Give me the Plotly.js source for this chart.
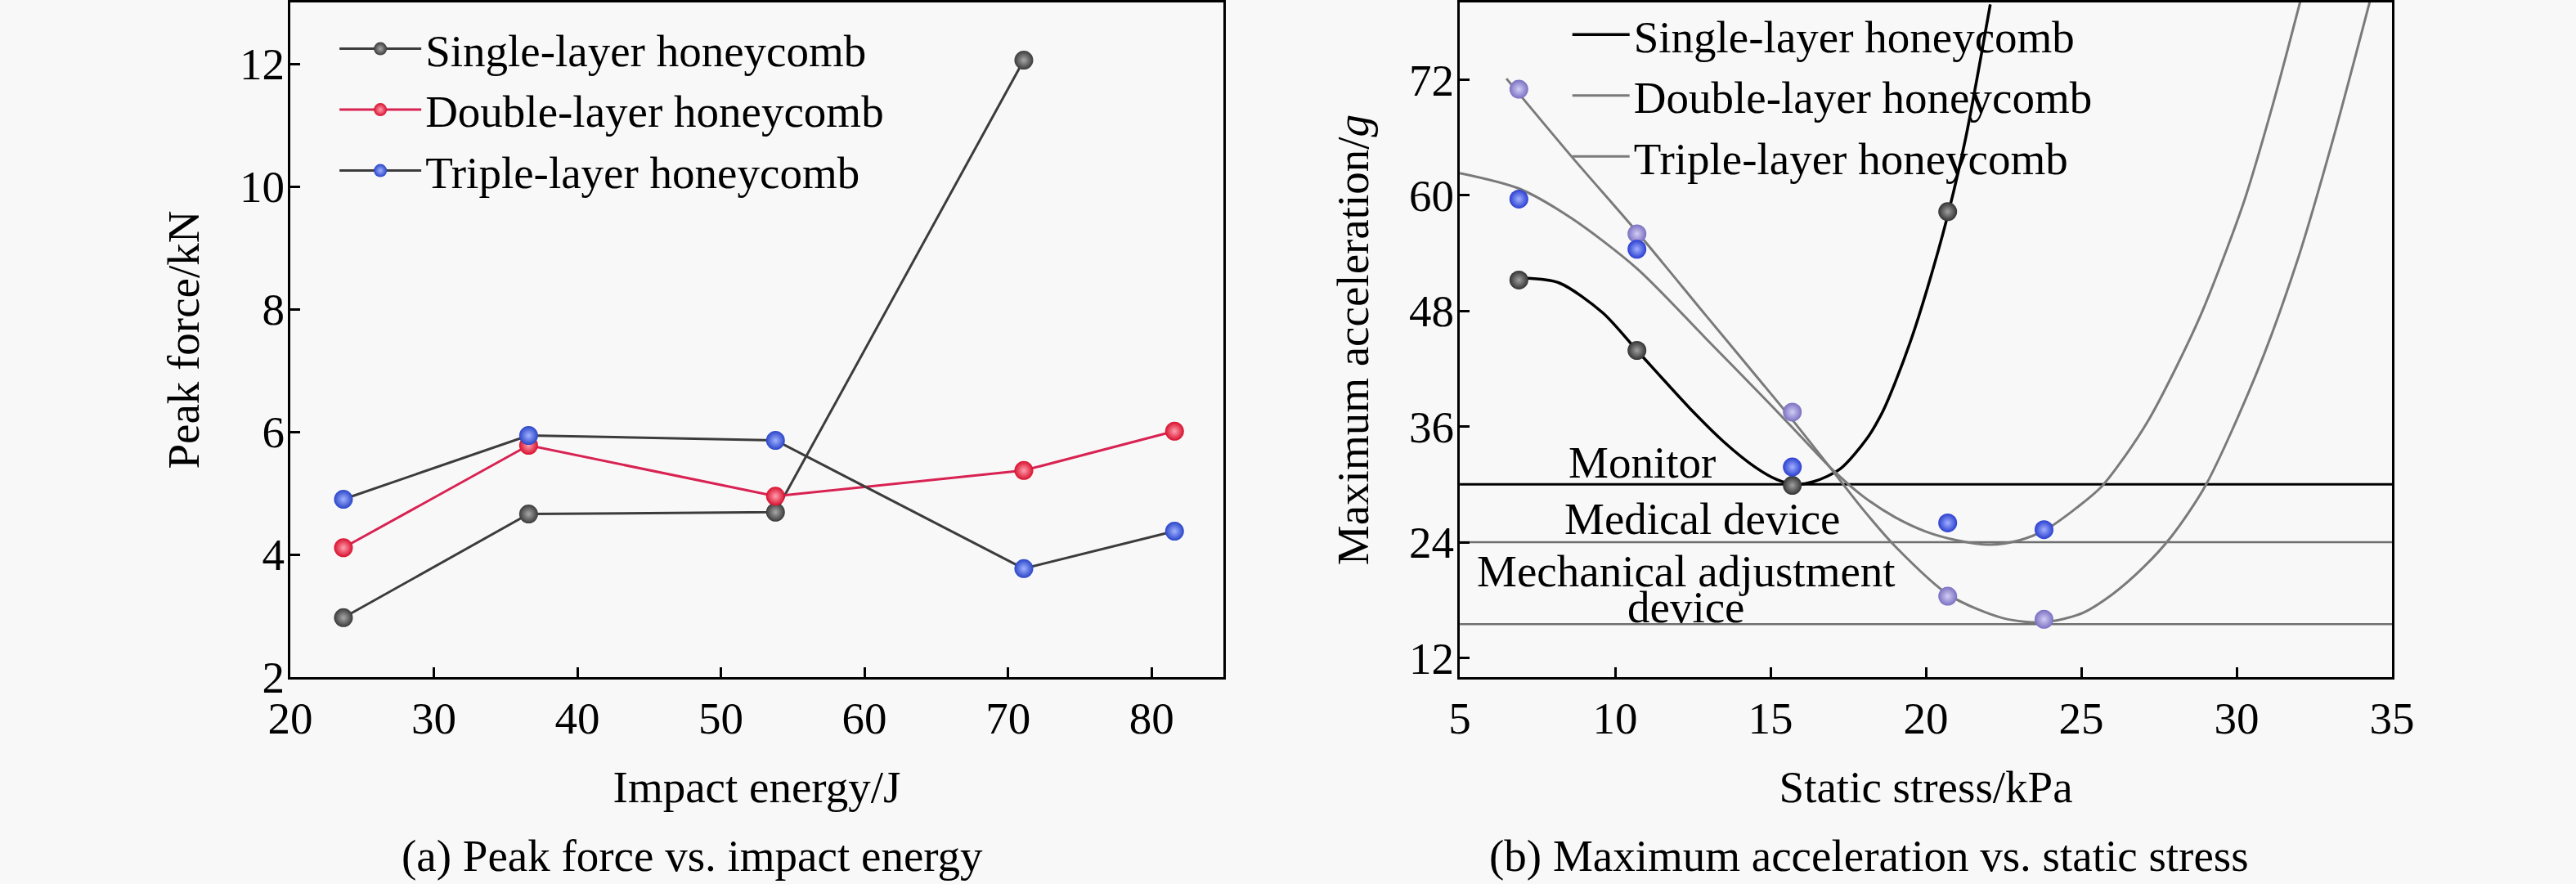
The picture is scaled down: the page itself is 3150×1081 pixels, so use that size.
<!DOCTYPE html>
<html>
<head>
<meta charset="utf-8">
<script src="https://cdn.plot.ly/plotly-3.0.1.min.js"></script>
<style>
html,body{margin:0;padding:0;background:#f8f8f8;}
#chart{width:3150px;height:1081px;}
</style>
</head>
<body>
<div id="chart"></div>
<script>
// ---------- Panel (a): peak force vs impact energy ----------
const energySingle = [23.7, 36.6, 53.8, 71.1];
const forceSingle  = [2.97, 4.66, 4.69, 12.06];
const energyMulti  = [23.7, 36.6, 53.8, 71.1, 81.6];
const forceDouble  = [4.11, 5.78, 4.95, 5.37, 6.01];
const forceTriple  = [4.90, 5.94, 5.86, 3.77, 4.38];
const energyTicks  = [20, 30, 40, 50, 60, 70, 80];
const forceTicks   = [2, 4, 6, 8, 10, 12];

// ---------- Panel (b): max acceleration vs static stress ----------
const stress        = [6.9, 10.7, 15.7, 20.7, 23.8];
const stressSingle  = [6.9, 10.7, 15.7, 20.7];
const accelSingle   = [51.2, 43.9, 29.9, 58.3];
const accelDouble   = [71.0, 56.0, 37.5, 18.4, 16.0];
const accelTriple   = [59.6, 54.4, 31.8, 26.0, 25.3];

// fitted curves
const fitSingleX = [7.1, 8.2, 9.6, 10.7, 12.4, 13.5, 14.5, 15.2, 15.75, 16.4, 17.24, 18.11, 18.6, 19.0, 19.52, 20.05, 20.66, 21.27, 22.07];
const fitSingleY = [51.4, 50.9, 47.8, 43.9, 37.9, 34.4, 31.8, 30.5, 30.0, 30.3, 31.6, 34.8, 37.5, 40.5, 45.0, 50.4, 57.4, 65.8, 79.8];
const fitDoubleX = [6.5, 8.6, 10.7, 12.9, 14.6, 15.7, 17.0, 18.0, 19.0, 20.75, 22.5, 23.8, 25.0, 26.0, 27.0, 27.9, 29.0, 30.66, 31.97, 33.1, 34.3];
const fitDoubleY = [72.1, 64.0, 56.2, 47.6, 41.0, 36.7, 31.4, 27.3, 23.6, 18.5, 16.1, 15.7, 16.6, 18.6, 21.4, 24.6, 29.9, 41.7, 53.4, 65.8, 80.3];
const fitTripleX = [5.0, 6.9, 8.6, 10.7, 12.9, 14.6, 15.7, 17.0, 18.0, 19.0, 20.0, 21.0, 22.06, 23.0, 23.8, 24.7, 25.66, 26.4, 27.15, 28.0, 28.9, 30.22, 31.18, 32.06];
const fitTripleY = [62.3, 60.7, 57.6, 52.4, 45.2, 39.6, 35.9, 31.5, 28.7, 26.6, 25.1, 24.2, 23.75, 24.2, 25.2, 27.2, 29.8, 32.9, 36.6, 41.8, 48.0, 59.2, 69.6, 80.3];

const stressTicks = [5, 10, 15, 20, 25, 30, 35];
const accelTicks  = [12, 24, 36, 48, 60, 72];

// device limits
const limitValues = [30, 24, 15.5];
const limitColors = ['#000000', '#6e6e6e', '#6e6e6e'];

const seriesNames = ['Single-layer honeycomb', 'Double-layer honeycomb', 'Triple-layer honeycomb'];

const FONT = 'Liberation Serif, Times New Roman, Times, DejaVu Serif, serif';
const BG = '#f8f8f8';

function sphere(color, light) {
  return {size: 23, color: color, gradient: {type: 'radial', color: light}, line: {width: 0}};
}

const traces = [
  // panel a
  {x: energySingle, y: forceSingle, xaxis: 'x', yaxis: 'y', type: 'scatter', mode: 'lines+markers',
   name: seriesNames[0], legend: 'legend', line: {color: '#3c3c3c', width: 3}, marker: sphere('#3a3a3a', '#a8a8a8')},
  {x: energyMulti, y: forceDouble, xaxis: 'x', yaxis: 'y', type: 'scatter', mode: 'lines+markers',
   name: seriesNames[1], legend: 'legend', line: {color: '#d82252', width: 3}, marker: sphere('#d8102e', '#ff9fae')},
  {x: energyMulti, y: forceTriple, xaxis: 'x', yaxis: 'y', type: 'scatter', mode: 'lines+markers',
   name: seriesNames[2], legend: 'legend', line: {color: '#3c3c3c', width: 3}, marker: sphere('#2a45c8', '#a0b2ff')},
  // panel b fitted curves
  {x: fitSingleX, y: fitSingleY, xaxis: 'x2', yaxis: 'y2', type: 'scatter', mode: 'lines',
   name: seriesNames[0], legend: 'legend2', line: {color: '#000000', width: 3.5, shape: 'spline', smoothing: 0.8}},
  {x: fitDoubleX, y: fitDoubleY, xaxis: 'x2', yaxis: 'y2', type: 'scatter', mode: 'lines',
   name: seriesNames[1], legend: 'legend2', line: {color: '#7a7a7a', width: 3, shape: 'spline', smoothing: 0.8}},
  {x: fitTripleX, y: fitTripleY, xaxis: 'x2', yaxis: 'y2', type: 'scatter', mode: 'lines',
   name: seriesNames[2], legend: 'legend2', line: {color: '#7a7a7a', width: 3, shape: 'spline', smoothing: 0.8}},
  // panel b measured points
  {x: stressSingle, y: accelSingle, xaxis: 'x2', yaxis: 'y2', type: 'scatter', mode: 'markers',
   showlegend: false, marker: sphere('#333333', '#a0a0a0')},
  {x: stress, y: accelDouble, xaxis: 'x2', yaxis: 'y2', type: 'scatter', mode: 'markers',
   showlegend: false, marker: sphere('#7a70c2', '#d2cdf4')},
  {x: stress, y: accelTriple, xaxis: 'x2', yaxis: 'y2', type: 'scatter', mode: 'markers',
   showlegend: false, marker: sphere('#2b3fd0', '#a0b0ff')}
];

const axisBase = {
  showline: true, linecolor: '#000', linewidth: 3, mirror: true,
  ticks: 'inside', ticklen: 12, tickwidth: 3, tickcolor: '#000',
  showgrid: false, zeroline: false,
  tickfont: {family: FONT, size: 55, color: '#000'}
};
const titleFont = {family: FONT, size: 55, color: '#000'};

const shapes = limitValues.map((v, i) => ({
  type: 'line', xref: 'x2 domain', yref: 'y2', x0: 0, x1: 1, y0: v, y1: v,
  line: {color: limitColors[i], width: i === 0 ? 3 : 2.5}, layer: 'below'
}));

const annFont = {family: FONT, size: 55, color: '#000'};
const annotations = [
  {xref: 'paper', yref: 'paper', x: 0.2686, y: 0.0315, text: '(a) Peak force vs. impact energy',
   showarrow: false, font: annFont, xanchor: 'center', yanchor: 'middle'},
  {xref: 'paper', yref: 'paper', x: 0.7254, y: 0.0315, text: '(b) Maximum acceleration vs. static stress',
   showarrow: false, font: annFont, xanchor: 'center', yanchor: 'middle'},
  {xref: 'x2', yref: 'y2', x: 10.86, y: 32.3, text: 'Monitor', showarrow: false, font: annFont, xanchor: 'center', yanchor: 'middle'},
  {xref: 'x2', yref: 'y2', x: 12.8, y: 26.4, text: 'Medical device', showarrow: false, font: annFont, xanchor: 'center', yanchor: 'middle'},
  {xref: 'x2', yref: 'y2', x: 12.29, y: 21.0, text: 'Mechanical adjustment', showarrow: false, font: annFont, xanchor: 'center', yanchor: 'middle'},
  {xref: 'x2', yref: 'y2', x: 12.29, y: 17.3, text: 'device', showarrow: false, font: annFont, xanchor: 'center', yanchor: 'middle'}
];

const layout = {
  width: 3150, height: 1081,
  paper_bgcolor: BG, plot_bgcolor: BG,
  margin: {l: 0, r: 0, t: 0, b: 0},
  font: {family: FONT, size: 55, color: '#000'},
  xaxis: Object.assign({}, axisBase, {domain: [0.1127, 0.4749], range: [20, 85], tickvals: energyTicks,
    anchor: 'y', title: {text: 'Impact energy/J', font: titleFont, standoff: 35}}),
  yaxis: Object.assign({}, axisBase, {domain: [0.234, 0.9972], range: [2, 13], tickvals: forceTicks,
    anchor: 'x', ticklabelstandoff: -7, title: {text: 'Peak force/kN', font: titleFont, standoff: 32}}),
  xaxis2: Object.assign({}, axisBase, {domain: [0.5667, 0.9286], range: [5, 35], tickvals: stressTicks,
    anchor: 'y2', title: {text: 'Static stress/kPa', font: titleFont, standoff: 35}}),
  yaxis2: Object.assign({}, axisBase, {domain: [0.234, 0.9972], range: [10, 80], tickvals: accelTicks,
    anchor: 'x2', ticklabelstandoff: -7, title: {text: 'Maximum acceleration/<i>g</i>', font: titleFont, standoff: 32}}),
  legend: {x: 0.1302, y: 0.984, xanchor: 'left', yanchor: 'top', bgcolor: 'rgba(0,0,0,0)',
    font: {family: FONT, size: 55, color: '#000'}, itemwidth: 100, tracegroupgap: 0},
  legend2: {x: 0.6088, y: 1.0, xanchor: 'left', yanchor: 'top', bgcolor: 'rgba(0,0,0,0)',
    font: {family: FONT, size: 55, color: '#000'}, itemwidth: 70, tracegroupgap: 0},
  shapes: shapes,
  annotations: annotations,
  showlegend: true
};

Plotly.newPlot('chart', traces, layout, {staticPlot: true, displayModeBar: false});
</script>
</body>
</html>
